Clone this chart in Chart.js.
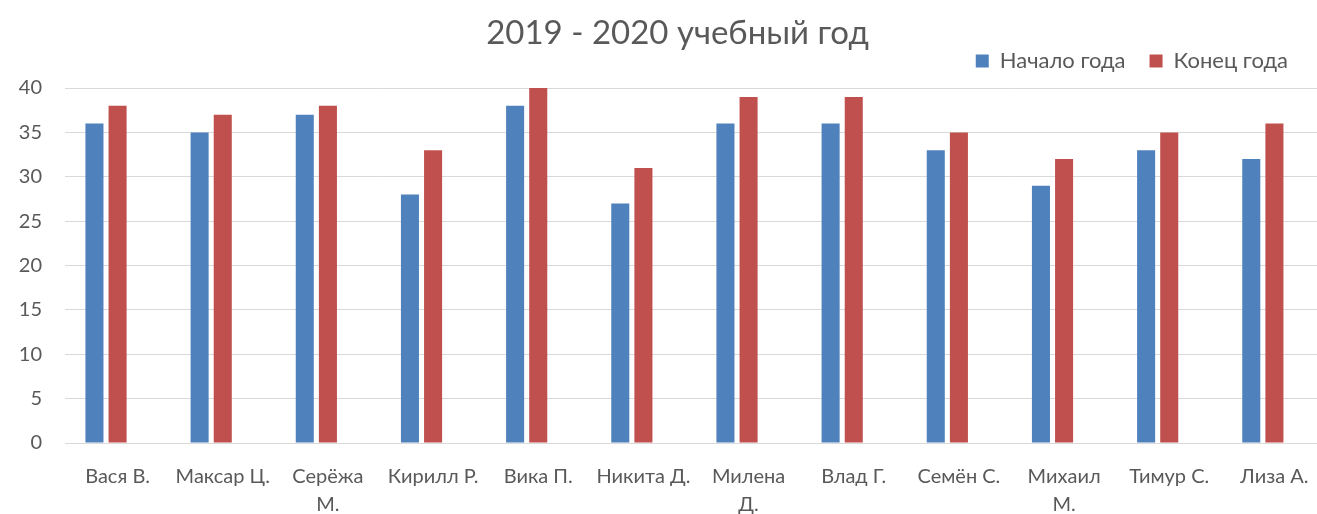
<!DOCTYPE html>
<html lang="ru">
<head>
    <meta charset="UTF-8">
    <title>2019 - 2020 учебный год</title>
    <script src="https://cdn.jsdelivr.net/npm/chart.js"></script>
    <style>
        html, body { margin: 0; padding: 0; background: #fff; overflow: hidden; }
        #wrap { width: 1327px; height: 514px; }
    </style>
</head>
<body>
    <div id="wrap"><canvas id="barChart"></canvas></div>
    <script>
        // Данные диаграммы
        const students = ['Вася В.', 'Максар Ц.', ['Серёжа', 'М.'], 'Кирилл Р.', 'Вика П.', 'Никита Д.',
                          ['Милена', 'Д.'], 'Влад Г.', 'Семён С.', ['Михаил', 'М.'], 'Тимур С.', 'Лиза А.'];
        const startOfYear = [36, 35, 37, 28, 38, 27, 36, 36, 33, 29, 33, 32];
        const endOfYear   = [38, 37, 38, 33, 40, 31, 39, 39, 35, 32, 35, 36];
        // третий ряд в исходной таблице пустой, но место под него занято
        const emptySeries = [null, null, null, null, null, null, null, null, null, null, null, null];
        const yTicks = [0, 5, 10, 15, 20, 25, 30, 35, 40];

        const gray = '#595959';
        const font = 'Lato, "Open Sans", sans-serif';

        // в Excel легенда чуть левее, заголовок чуть правее
        const nudgeBoxes = {
            id: 'nudgeBoxes',
            afterLayout(chart) {
                const lg = chart.legend;
                lg.right -= 15;
                lg.top -= 6;
                lg.bottom -= 6;
                const t = chart.titleBlock;
                t.left += 14;
                t.right += 14;
            }
        };

        new Chart(document.getElementById('barChart'), {
            type: 'bar',
            data: {
                labels: students,
                datasets: [
                    { label: 'Начало года', data: startOfYear, backgroundColor: '#4F81BD' },
                    { label: 'Конец года', data: endOfYear, backgroundColor: '#C0504D' },
                    { label: '', data: emptySeries, backgroundColor: 'rgba(0,0,0,0)' }
                ]
            },
            plugins: [nudgeBoxes],
            options: {
                responsive: true,
                maintainAspectRatio: false,
                animation: false,
                events: [],
                layout: { padding: 0 },
                datasets: { bar: { categoryPercentage: 0.66, barPercentage: 0.78 } },
                plugins: {
                    title: {
                        display: true,
                        text: '2019 - 2020 учебный год',
                        color: gray,
                        font: { family: font, size: 33, weight: 'normal', lineHeight: 1.0 },
                        padding: { top: 17, bottom: -18 }
                    },
                    legend: {
                        position: 'top',
                        align: 'end',
                        labels: {
                            color: gray,
                            font: { family: font, size: 22 },
                            boxWidth: 13,
                            boxHeight: 13,
                            padding: 24,
                            filter: item => item.text !== ''
                        }
                    },
                    tooltip: { enabled: false }
                },
                scales: {
                    x: {
                        afterFit: axis => { axis.height = 71; },
                        grid: { display: false },
                        border: { display: true, color: '#D9D9D9', width: 1 },
                        ticks: {
                            color: gray,
                            font: { family: font, size: 20, lineHeight: 1.4 },
                            maxRotation: 0,
                            autoSkip: false,
                            padding: 12
                        }
                    },
                    y: {
                        min: 0,
                        max: 40,
                        afterBuildTicks: axis => { axis.ticks = yTicks.map(v => ({ value: v })); },
                        afterFit: axis => { axis.width = 65; },
                        grid: { color: '#D9D9D9', lineWidth: 1, drawTicks: false },
                        border: { display: false },
                        ticks: {
                            color: gray,
                            font: { family: font, size: 20 },
                            padding: 23
                        }
                    }
                }
            }
        });
    </script>
</body>
</html>
